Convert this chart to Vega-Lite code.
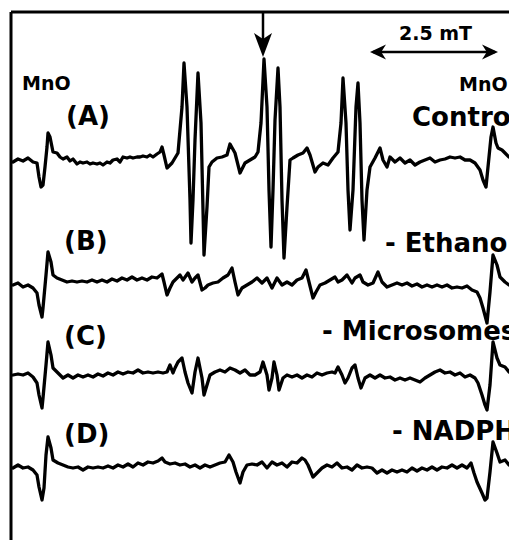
{
  "$schema": "https://vega.github.io/schema/vega-lite/v6.json",
  "width": 498,
  "height": 528,
  "autosize": {"type": "none"},
  "padding": {"left": 11, "top": 12, "right": 0, "bottom": 0},
  "background": "white",
  "config": {"view": {"stroke": null}},
  "datasets": {
    "traces": [
      {"s":"A","x":2,"y":390},{"s":"A","x":7,"y":393},{"s":"A","x":12,"y":391},{"s":"A","x":17,"y":394},{"s":"A","x":22,"y":390},{"s":"A","x":26,"y":389},{"s":"A","x":28,"y":375},{"s":"A","x":30,"y":365},{"s":"A","x":32,"y":367},{"s":"A","x":34,"y":385},{"s":"A","x":36,"y":405},{"s":"A","x":37,"y":419},{"s":"A","x":39,"y":415},{"s":"A","x":41,"y":405},{"s":"A","x":42,"y":400},{"s":"A","x":46,"y":399},{"s":"A","x":49,"y":395},{"s":"A","x":52,"y":393},{"s":"A","x":56,"y":395},{"s":"A","x":59,"y":391},{"s":"A","x":62,"y":393},{"s":"A","x":66,"y":388},{"s":"A","x":69,"y":390},{"s":"A","x":72,"y":389},{"s":"A","x":76,"y":390},{"s":"A","x":79,"y":388},{"s":"A","x":82,"y":389},{"s":"A","x":86,"y":388},{"s":"A","x":89,"y":389},{"s":"A","x":92,"y":387},{"s":"A","x":96,"y":390},{"s":"A","x":99,"y":389},{"s":"A","x":102,"y":392},{"s":"A","x":106,"y":393},{"s":"A","x":109,"y":390},{"s":"A","x":112,"y":395},{"s":"A","x":116,"y":394},{"s":"A","x":119,"y":395},{"s":"A","x":122,"y":394},{"s":"A","x":126,"y":395},{"s":"A","x":129,"y":395},{"s":"A","x":132,"y":396},{"s":"A","x":136,"y":395},{"s":"A","x":139,"y":397},{"s":"A","x":142,"y":395},{"s":"A","x":146,"y":398},{"s":"A","x":149,"y":400},{"s":"A","x":151,"y":405},{"s":"A","x":153,"y":397},{"s":"A","x":156,"y":384},{"s":"A","x":158,"y":386},{"s":"A","x":161,"y":389},{"s":"A","x":164,"y":394},{"s":"A","x":167,"y":399},{"s":"A","x":171,"y":445},{"s":"A","x":173,"y":489},{"s":"A","x":176,"y":445},{"s":"A","x":179,"y":352},{"s":"A","x":180,"y":309},{"s":"A","x":182,"y":352},{"s":"A","x":184,"y":412},{"s":"A","x":187,"y":479},{"s":"A","x":190,"y":429},{"s":"A","x":192,"y":342},{"s":"A","x":193,"y":297},{"s":"A","x":196,"y":345},{"s":"A","x":198,"y":385},{"s":"A","x":201,"y":390},{"s":"A","x":206,"y":394},{"s":"A","x":211,"y":395},{"s":"A","x":216,"y":397},{"s":"A","x":219,"y":408},{"s":"A","x":224,"y":399},{"s":"A","x":229,"y":379},{"s":"A","x":234,"y":389},{"s":"A","x":239,"y":392},{"s":"A","x":244,"y":395},{"s":"A","x":247,"y":400},{"s":"A","x":250,"y":429},{"s":"A","x":253,"y":493},{"s":"A","x":256,"y":445},{"s":"A","x":258,"y":362},{"s":"A","x":260,"y":305},{"s":"A","x":262,"y":362},{"s":"A","x":264,"y":432},{"s":"A","x":267,"y":484},{"s":"A","x":269,"y":445},{"s":"A","x":271,"y":352},{"s":"A","x":273,"y":294},{"s":"A","x":276,"y":345},{"s":"A","x":279,"y":392},{"s":"A","x":282,"y":394},{"s":"A","x":287,"y":397},{"s":"A","x":292,"y":399},{"s":"A","x":296,"y":404},{"s":"A","x":299,"y":397},{"s":"A","x":304,"y":380},{"s":"A","x":307,"y":385},{"s":"A","x":312,"y":389},{"s":"A","x":317,"y":387},{"s":"A","x":322,"y":394},{"s":"A","x":327,"y":400},{"s":"A","x":330,"y":429},{"s":"A","x":332,"y":474},{"s":"A","x":335,"y":429},{"s":"A","x":337,"y":362},{"s":"A","x":339,"y":322},{"s":"A","x":342,"y":362},{"s":"A","x":345,"y":445},{"s":"A","x":347,"y":469},{"s":"A","x":349,"y":429},{"s":"A","x":351,"y":352},{"s":"A","x":353,"y":312},{"s":"A","x":356,"y":362},{"s":"A","x":359,"y":385},{"s":"A","x":364,"y":394},{"s":"A","x":369,"y":404},{"s":"A","x":372,"y":392},{"s":"A","x":376,"y":385},{"s":"A","x":379,"y":395},{"s":"A","x":384,"y":390},{"s":"A","x":389,"y":394},{"s":"A","x":394,"y":389},{"s":"A","x":399,"y":392},{"s":"A","x":404,"y":387},{"s":"A","x":409,"y":390},{"s":"A","x":414,"y":392},{"s":"A","x":419,"y":394},{"s":"A","x":424,"y":390},{"s":"A","x":429,"y":392},{"s":"A","x":434,"y":393},{"s":"A","x":439,"y":395},{"s":"A","x":444,"y":394},{"s":"A","x":449,"y":395},{"s":"A","x":454,"y":392},{"s":"A","x":459,"y":392},{"s":"A","x":464,"y":389},{"s":"A","x":469,"y":382},{"s":"A","x":472,"y":372},{"s":"A","x":475,"y":365},{"s":"A","x":477,"y":385},{"s":"A","x":480,"y":415},{"s":"A","x":482,"y":425},{"s":"A","x":485,"y":409},{"s":"A","x":487,"y":404},{"s":"A","x":491,"y":402},{"s":"A","x":494,"y":399},{"s":"A","x":498,"y":395},{"s":"A","x":504,"y":394},
      {"s":"B","x":2,"y":267},{"s":"B","x":7,"y":269},{"s":"B","x":12,"y":265},{"s":"B","x":17,"y":267},{"s":"B","x":22,"y":264},{"s":"B","x":26,"y":259},{"s":"B","x":28,"y":247},{"s":"B","x":31,"y":235},{"s":"B","x":32,"y":244},{"s":"B","x":35,"y":277},{"s":"B","x":37,"y":300},{"s":"B","x":40,"y":290},{"s":"B","x":42,"y":277},{"s":"B","x":46,"y":274},{"s":"B","x":51,"y":272},{"s":"B","x":56,"y":270},{"s":"B","x":61,"y":271},{"s":"B","x":66,"y":270},{"s":"B","x":71,"y":271},{"s":"B","x":76,"y":270},{"s":"B","x":81,"y":272},{"s":"B","x":86,"y":270},{"s":"B","x":91,"y":272},{"s":"B","x":96,"y":270},{"s":"B","x":101,"y":273},{"s":"B","x":106,"y":271},{"s":"B","x":111,"y":274},{"s":"B","x":116,"y":272},{"s":"B","x":121,"y":275},{"s":"B","x":126,"y":272},{"s":"B","x":131,"y":274},{"s":"B","x":136,"y":272},{"s":"B","x":141,"y":275},{"s":"B","x":146,"y":274},{"s":"B","x":151,"y":278},{"s":"B","x":153,"y":270},{"s":"B","x":156,"y":257},{"s":"B","x":159,"y":264},{"s":"B","x":162,"y":270},{"s":"B","x":166,"y":274},{"s":"B","x":169,"y":277},{"s":"B","x":172,"y":272},{"s":"B","x":177,"y":279},{"s":"B","x":181,"y":270},{"s":"B","x":184,"y":274},{"s":"B","x":187,"y":277},{"s":"B","x":191,"y":262},{"s":"B","x":194,"y":264},{"s":"B","x":197,"y":267},{"s":"B","x":202,"y":269},{"s":"B","x":207,"y":270},{"s":"B","x":212,"y":274},{"s":"B","x":217,"y":277},{"s":"B","x":221,"y":284},{"s":"B","x":224,"y":270},{"s":"B","x":227,"y":257},{"s":"B","x":231,"y":264},{"s":"B","x":236,"y":267},{"s":"B","x":241,"y":270},{"s":"B","x":246,"y":274},{"s":"B","x":251,"y":269},{"s":"B","x":256,"y":274},{"s":"B","x":261,"y":264},{"s":"B","x":266,"y":274},{"s":"B","x":271,"y":267},{"s":"B","x":276,"y":270},{"s":"B","x":281,"y":267},{"s":"B","x":286,"y":272},{"s":"B","x":291,"y":274},{"s":"B","x":295,"y":282},{"s":"B","x":298,"y":270},{"s":"B","x":302,"y":254},{"s":"B","x":305,"y":260},{"s":"B","x":309,"y":267},{"s":"B","x":314,"y":269},{"s":"B","x":319,"y":272},{"s":"B","x":324,"y":275},{"s":"B","x":327,"y":270},{"s":"B","x":331,"y":272},{"s":"B","x":336,"y":277},{"s":"B","x":341,"y":269},{"s":"B","x":344,"y":274},{"s":"B","x":349,"y":277},{"s":"B","x":352,"y":270},{"s":"B","x":357,"y":267},{"s":"B","x":362,"y":269},{"s":"B","x":367,"y":280},{"s":"B","x":371,"y":270},{"s":"B","x":376,"y":265},{"s":"B","x":381,"y":267},{"s":"B","x":386,"y":269},{"s":"B","x":391,"y":267},{"s":"B","x":396,"y":269},{"s":"B","x":401,"y":266},{"s":"B","x":406,"y":268},{"s":"B","x":411,"y":265},{"s":"B","x":416,"y":267},{"s":"B","x":421,"y":265},{"s":"B","x":426,"y":267},{"s":"B","x":431,"y":265},{"s":"B","x":436,"y":267},{"s":"B","x":441,"y":264},{"s":"B","x":446,"y":265},{"s":"B","x":451,"y":264},{"s":"B","x":456,"y":266},{"s":"B","x":461,"y":262},{"s":"B","x":466,"y":260},{"s":"B","x":469,"y":254},{"s":"B","x":472,"y":244},{"s":"B","x":476,"y":229},{"s":"B","x":479,"y":260},{"s":"B","x":482,"y":297},{"s":"B","x":486,"y":287},{"s":"B","x":489,"y":275},{"s":"B","x":494,"y":270},{"s":"B","x":498,"y":267},{"s":"B","x":504,"y":267},
      {"s":"C","x":2,"y":177},{"s":"C","x":7,"y":178},{"s":"C","x":12,"y":177},{"s":"C","x":17,"y":179},{"s":"C","x":22,"y":175},{"s":"C","x":26,"y":169},{"s":"C","x":28,"y":157},{"s":"C","x":31,"y":144},{"s":"C","x":32,"y":154},{"s":"C","x":35,"y":187},{"s":"C","x":37,"y":210},{"s":"C","x":40,"y":197},{"s":"C","x":42,"y":184},{"s":"C","x":47,"y":179},{"s":"C","x":52,"y":174},{"s":"C","x":57,"y":177},{"s":"C","x":62,"y":174},{"s":"C","x":67,"y":177},{"s":"C","x":72,"y":175},{"s":"C","x":77,"y":177},{"s":"C","x":82,"y":175},{"s":"C","x":87,"y":178},{"s":"C","x":92,"y":176},{"s":"C","x":97,"y":179},{"s":"C","x":102,"y":177},{"s":"C","x":107,"y":180},{"s":"C","x":112,"y":178},{"s":"C","x":117,"y":180},{"s":"C","x":122,"y":179},{"s":"C","x":127,"y":182},{"s":"C","x":132,"y":179},{"s":"C","x":137,"y":180},{"s":"C","x":142,"y":179},{"s":"C","x":147,"y":180},{"s":"C","x":152,"y":179},{"s":"C","x":156,"y":180},{"s":"C","x":159,"y":187},{"s":"C","x":162,"y":179},{"s":"C","x":164,"y":184},{"s":"C","x":167,"y":190},{"s":"C","x":171,"y":194},{"s":"C","x":174,"y":180},{"s":"C","x":177,"y":169},{"s":"C","x":181,"y":159},{"s":"C","x":184,"y":180},{"s":"C","x":187,"y":194},{"s":"C","x":191,"y":174},{"s":"C","x":193,"y":157},{"s":"C","x":196,"y":167},{"s":"C","x":199,"y":177},{"s":"C","x":204,"y":180},{"s":"C","x":209,"y":182},{"s":"C","x":214,"y":180},{"s":"C","x":219,"y":184},{"s":"C","x":224,"y":182},{"s":"C","x":229,"y":179},{"s":"C","x":234,"y":182},{"s":"C","x":239,"y":177},{"s":"C","x":244,"y":177},{"s":"C","x":249,"y":180},{"s":"C","x":252,"y":190},{"s":"C","x":256,"y":177},{"s":"C","x":258,"y":162},{"s":"C","x":261,"y":174},{"s":"C","x":263,"y":190},{"s":"C","x":266,"y":177},{"s":"C","x":268,"y":162},{"s":"C","x":272,"y":174},{"s":"C","x":276,"y":177},{"s":"C","x":281,"y":175},{"s":"C","x":286,"y":177},{"s":"C","x":291,"y":174},{"s":"C","x":296,"y":177},{"s":"C","x":301,"y":175},{"s":"C","x":306,"y":179},{"s":"C","x":311,"y":177},{"s":"C","x":316,"y":179},{"s":"C","x":321,"y":180},{"s":"C","x":324,"y":179},{"s":"C","x":327,"y":185},{"s":"C","x":331,"y":177},{"s":"C","x":334,"y":169},{"s":"C","x":337,"y":174},{"s":"C","x":341,"y":184},{"s":"C","x":344,"y":187},{"s":"C","x":347,"y":174},{"s":"C","x":350,"y":164},{"s":"C","x":354,"y":174},{"s":"C","x":359,"y":177},{"s":"C","x":364,"y":174},{"s":"C","x":369,"y":177},{"s":"C","x":374,"y":174},{"s":"C","x":379,"y":175},{"s":"C","x":384,"y":172},{"s":"C","x":389,"y":174},{"s":"C","x":394,"y":172},{"s":"C","x":399,"y":174},{"s":"C","x":404,"y":172},{"s":"C","x":409,"y":170},{"s":"C","x":414,"y":174},{"s":"C","x":419,"y":177},{"s":"C","x":424,"y":180},{"s":"C","x":429,"y":182},{"s":"C","x":434,"y":179},{"s":"C","x":439,"y":180},{"s":"C","x":444,"y":177},{"s":"C","x":449,"y":179},{"s":"C","x":454,"y":175},{"s":"C","x":459,"y":177},{"s":"C","x":464,"y":174},{"s":"C","x":467,"y":169},{"s":"C","x":471,"y":157},{"s":"C","x":474,"y":147},{"s":"C","x":476,"y":142},{"s":"C","x":479,"y":167},{"s":"C","x":482,"y":210},{"s":"C","x":486,"y":194},{"s":"C","x":489,"y":187},{"s":"C","x":494,"y":185},{"s":"C","x":498,"y":180},{"s":"C","x":504,"y":179},
      {"s":"D","x":2,"y":84},{"s":"D","x":7,"y":87},{"s":"D","x":12,"y":84},{"s":"D","x":17,"y":85},{"s":"D","x":22,"y":82},{"s":"D","x":26,"y":77},{"s":"D","x":28,"y":65},{"s":"D","x":31,"y":52},{"s":"D","x":33,"y":64},{"s":"D","x":35,"y":97},{"s":"D","x":37,"y":115},{"s":"D","x":40,"y":104},{"s":"D","x":42,"y":92},{"s":"D","x":47,"y":89},{"s":"D","x":52,"y":87},{"s":"D","x":57,"y":85},{"s":"D","x":62,"y":84},{"s":"D","x":67,"y":85},{"s":"D","x":72,"y":82},{"s":"D","x":77,"y":85},{"s":"D","x":82,"y":84},{"s":"D","x":87,"y":85},{"s":"D","x":92,"y":84},{"s":"D","x":97,"y":86},{"s":"D","x":102,"y":84},{"s":"D","x":107,"y":87},{"s":"D","x":112,"y":85},{"s":"D","x":117,"y":88},{"s":"D","x":122,"y":85},{"s":"D","x":127,"y":89},{"s":"D","x":132,"y":87},{"s":"D","x":137,"y":90},{"s":"D","x":142,"y":89},{"s":"D","x":147,"y":91},{"s":"D","x":151,"y":94},{"s":"D","x":154,"y":90},{"s":"D","x":159,"y":88},{"s":"D","x":164,"y":89},{"s":"D","x":169,"y":87},{"s":"D","x":174,"y":88},{"s":"D","x":179,"y":85},{"s":"D","x":184,"y":87},{"s":"D","x":189,"y":84},{"s":"D","x":194,"y":87},{"s":"D","x":199,"y":85},{"s":"D","x":204,"y":87},{"s":"D","x":209,"y":89},{"s":"D","x":214,"y":90},{"s":"D","x":218,"y":97},{"s":"D","x":222,"y":90},{"s":"D","x":225,"y":80},{"s":"D","x":229,"y":69},{"s":"D","x":232,"y":80},{"s":"D","x":236,"y":87},{"s":"D","x":241,"y":88},{"s":"D","x":246,"y":87},{"s":"D","x":251,"y":90},{"s":"D","x":256,"y":84},{"s":"D","x":261,"y":90},{"s":"D","x":266,"y":87},{"s":"D","x":271,"y":89},{"s":"D","x":276,"y":85},{"s":"D","x":281,"y":90},{"s":"D","x":286,"y":89},{"s":"D","x":291,"y":94},{"s":"D","x":294,"y":92},{"s":"D","x":297,"y":87},{"s":"D","x":302,"y":75},{"s":"D","x":306,"y":79},{"s":"D","x":311,"y":84},{"s":"D","x":316,"y":87},{"s":"D","x":321,"y":85},{"s":"D","x":326,"y":89},{"s":"D","x":331,"y":84},{"s":"D","x":336,"y":85},{"s":"D","x":341,"y":82},{"s":"D","x":346,"y":87},{"s":"D","x":351,"y":84},{"s":"D","x":356,"y":85},{"s":"D","x":361,"y":84},{"s":"D","x":366,"y":79},{"s":"D","x":371,"y":82},{"s":"D","x":376,"y":79},{"s":"D","x":381,"y":82},{"s":"D","x":386,"y":80},{"s":"D","x":391,"y":82},{"s":"D","x":396,"y":80},{"s":"D","x":401,"y":84},{"s":"D","x":406,"y":81},{"s":"D","x":411,"y":84},{"s":"D","x":416,"y":82},{"s":"D","x":421,"y":85},{"s":"D","x":426,"y":82},{"s":"D","x":431,"y":85},{"s":"D","x":436,"y":84},{"s":"D","x":441,"y":87},{"s":"D","x":446,"y":84},{"s":"D","x":451,"y":87},{"s":"D","x":456,"y":84},{"s":"D","x":460,"y":89},{"s":"D","x":463,"y":79},{"s":"D","x":466,"y":70},{"s":"D","x":471,"y":59},{"s":"D","x":474,"y":52},{"s":"D","x":476,"y":54},{"s":"D","x":479,"y":80},{"s":"D","x":482,"y":110},{"s":"D","x":486,"y":99},{"s":"D","x":489,"y":90},{"s":"D","x":494,"y":92},{"s":"D","x":498,"y":87},{"s":"D","x":504,"y":87}
    ],
    "smallText": [
      {"t":"MnO","x":11,"y":462},
      {"t":"MnO","x":448,"y":461},
      {"t":"2.5 mT","x":388,"y":512}
    ],
    "bigText": [
      {"t":"(A)","x":55,"y":427},
      {"t":"Control","x":401,"y":426},
      {"t":"(B)","x":53,"y":302},
      {"t":"- Ethanol","x":374,"y":300},
      {"t":"(C)","x":53,"y":207},
      {"t":"- Microsomes","x":311,"y":212},
      {"t":"(D)","x":53,"y":109},
      {"t":"- NADPH","x":381,"y":112}
    ],
    "frame": [
      {"x":0,"x2":498,"y":540,"y2":540},
      {"x":0,"x2":0,"y":12,"y2":540}
    ],
    "shafts": [
      {"x":252,"x2":252,"y":540,"y2":505},
      {"x":362,"x2":484,"y":500,"y2":500}
    ],
    "heads": [
      {"dir":"down","x":252,"y":507},
      {"dir":"left","x":367,"y":500},
      {"dir":"right","x":479,"y":500}
    ]
  },
  "encoding": {
    "x": {"field":"x","type":"quantitative","scale":{"domain":[0,498],"nice":false,"zero":false},"axis":null},
    "y": {"field":"y","type":"quantitative","scale":{"domain":[12,540],"nice":false,"zero":false},"axis":null}
  },
  "layer": [
    {
      "data": {"name":"traces"},
      "mark": {"type":"line","color":"black","strokeWidth":3.3,"strokeJoin":"round","strokeCap":"round","clip":true},
      "encoding": {"detail":{"field":"s","type":"nominal"}}
    },
    {
      "data": {"name":"frame"},
      "mark": {"type":"rule","color":"black","strokeWidth":3},
      "encoding": {"x2":{"field":"x2"},"y2":{"field":"y2"}}
    },
    {
      "data": {"name":"shafts"},
      "mark": {"type":"rule","color":"black","strokeWidth":2.5},
      "encoding": {"x2":{"field":"x2"},"y2":{"field":"y2"}}
    },
    {
      "data": {"name":"heads"},
      "transform": [{"filter":"datum.dir === 'down'"}],
      "mark": {"type":"point","filled":true,"color":"black","opacity":1,"strokeWidth":0,"size":576,"shape":"M0,1 L-0.75,-1 L0,-0.5 L0.75,-1 Z"}
    },
    {
      "data": {"name":"heads"},
      "transform": [{"filter":"datum.dir === 'left'"}],
      "mark": {"type":"point","filled":true,"color":"black","opacity":1,"strokeWidth":0,"size":256,"shape":"M-1,0 L1,-0.95 L0.4,0 L1,0.95 Z"}
    },
    {
      "data": {"name":"heads"},
      "transform": [{"filter":"datum.dir === 'right'"}],
      "mark": {"type":"point","filled":true,"color":"black","opacity":1,"strokeWidth":0,"size":256,"shape":"M1,0 L-1,-0.95 L-0.4,0 L-1,0.95 Z"}
    },
    {
      "data": {"name":"smallText"},
      "mark": {"type":"text","font":"DejaVu Sans","fontWeight":"bold","fontSize":19,"align":"left","baseline":"alphabetic","color":"black","clip":true},
      "encoding": {"text":{"field":"t"}}
    },
    {
      "data": {"name":"bigText"},
      "mark": {"type":"text","font":"DejaVu Sans","fontWeight":"bold","fontSize":26,"align":"left","baseline":"alphabetic","color":"black","clip":true},
      "encoding": {"text":{"field":"t"}}
    }
  ]
}
